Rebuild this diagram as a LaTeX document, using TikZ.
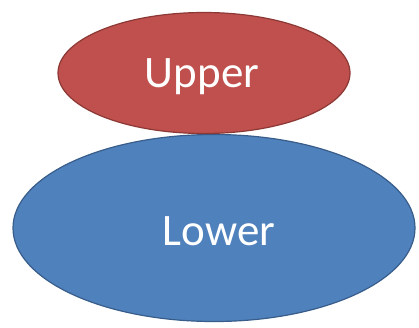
\documentclass[tikz,border=0pt]{standalone}
\usepackage{fontspec}
\setmainfont{Carlito}
\usetikzlibrary{shapes.geometric}
\definecolor{redfill}{RGB}{192,80,77}
\definecolor{redline}{RGB}{140,56,53}
\definecolor{bluefill}{RGB}{79,129,189}
\definecolor{blueline}{RGB}{56,93,138}
\tikzset{
  blob/.style={ellipse, line width=1.2pt, inner sep=0pt},
  label text/.style={text=white, font=\fontsize{45}{48}\selectfont},
}
\begin{document}
\begin{tikzpicture}[x=1pt,y=1pt]
\useasboundingbox (0,0) rectangle (419,-327);
% lower layer
\node[blob, fill=bluefill, draw=blueline, minimum width=402pt, minimum height=187pt]
  (lower) at (214,-228) {};
\node[label text] (lowertext) at ([xshift=5pt,yshift=-3pt]lower.center) {Lower};
% upper layer
\node[blob, fill=redfill, draw=redline, minimum width=292pt, minimum height=121pt]
  (upper) at (204,-73) {};
\node[label text] (uppertext) at ([xshift=-2pt,yshift=-4pt]upper.center) {Upper};
\end{tikzpicture}
\end{document}
